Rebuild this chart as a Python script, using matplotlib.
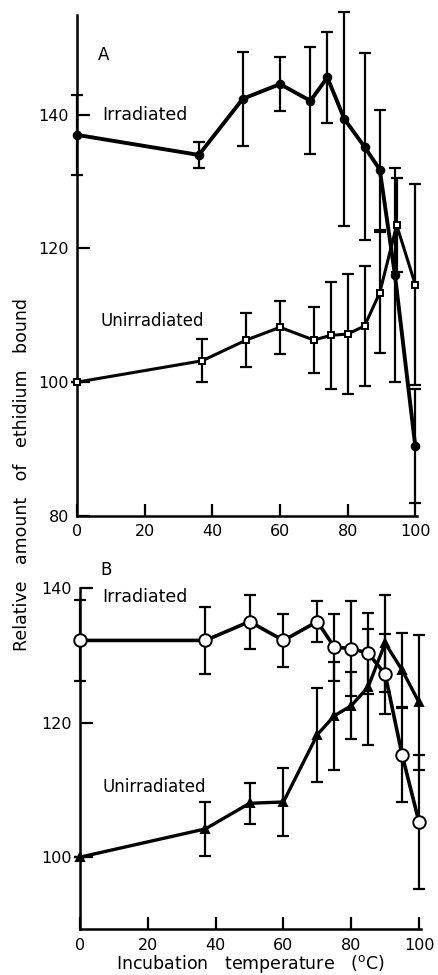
import numpy as np
from matplotlib import pyplot as plt

# panel A: irradiated (filled circles) and unirradiated (open squares)
temp_a_irr = [0, 36, 49, 60, 69, 74, 79, 85, 89.5, 94, 100]
val_a_irr = [137, 134, 142.4, 144.6, 142.1, 145.6, 139.4, 135.2, 131.8, 116, 90.4]
err_a_irr = [6, 2, 7, 4, 8, 6.8, 16, 14, 9, 16, 8.5]

temp_a_un = [0, 37, 50, 60, 70, 75, 80, 85, 89.5, 94.5, 100]
val_a_un = [100, 103.2, 106.3, 108.2, 106.3, 107, 107.2, 108.4, 113.4, 123.5, 114.6]
err_a_un = [0, 3.2, 4, 4, 5, 8, 9, 9, 9, 7, 15]

# panel B: irradiated (open circles) and unirradiated (filled triangles)
temp_b_irr = [0, 37, 50, 60, 70, 75, 80, 85, 90, 95, 100]
val_b_irr = [132.2, 132.2, 135, 132.2, 135, 131.2, 131, 130.3, 127.2, 115.2, 105.2]
err_b_irr = [6, 5, 4, 4, 3, 5, 7, 6, 6, 7, 10]

temp_b_un = [0, 37, 50, 60, 70, 75, 80, 85, 90, 95, 100]
val_b_un = [100, 104.2, 108, 108.2, 118.2, 121, 122.5, 125.3, 131.8, 127.8, 123]
err_b_un = [0, 4, 3, 5, 7, 8, 5, 8.6, 7.2, 5.5, 10]

x_ticks = [0, 20, 40, 60, 80, 100]
y_ticks_a = [80, 100, 120, 140]
y_ticks_b = [100, 120, 140]


def style_axes(ax):
    for s in ['top', 'right']:
        ax.spines[s].set_visible(False)
    for s in ['left', 'bottom']:
        ax.spines[s].set_linewidth(1.8)
    ax.tick_params(direction='in', length=9, width=1.6, labelsize=11.5, pad=6)
    ax.set_xlim(0, 100.5)
    ax.set_xticks(x_ticks)


def draw_series(ax, x, y, e, marker, ms, face, lw, zo):
    _, caps, bars = ax.errorbar(x, y, yerr=e, fmt='none', ecolor='black', elinewidth=1.6,
                                capsize=4, capthick=1.6, zorder=zo - 1)
    for a in list(caps) + list(bars):
        a.set_clip_on(False)
    ax.plot(x, y, color='black', lw=lw, marker=marker, ms=ms,
            markerfacecolor=face, markeredgecolor='black', markeredgewidth=1.4,
            zorder=zo, clip_on=False)


fig = plt.figure(figsize=(4.38, 9.75), dpi=100)

ax_a = fig.add_axes([0.176, 0.471, 0.776, 0.514])
style_axes(ax_a)
ax_a.set_ylim(80, 155)
ax_a.set_yticks(y_ticks_a)
draw_series(ax_a, temp_a_irr, val_a_irr, err_a_irr, 'o', 5.5, 'black', 2.8, 4)
draw_series(ax_a, temp_a_un, val_a_un, err_a_un, 's', 4.5, 'white', 2.2, 6)
ax_a.text(6, 149, 'A', fontsize=12, va='center')
ax_a.text(7.5, 140, 'Irradiated', fontsize=12.5, va='center')
ax_a.text(7, 109.2, 'Unirradiated', fontsize=12, va='center')

ax_b = fig.add_axes([0.1826, 0.047, 0.778, 0.350])
style_axes(ax_b)
ax_b.set_ylim(89.3, 140)
ax_b.set_yticks(y_ticks_b)
draw_series(ax_b, temp_b_un, val_b_un, err_b_un, '^', 5.5, 'black', 2.4, 4)
draw_series(ax_b, temp_b_irr, val_b_irr, err_b_irr, 'o', 9, 'white', 2.6, 6)
ax_b.text(5.9, 142.7, 'B', fontsize=12, va='center')
ax_b.text(6.7, 138.6, 'Irradiated', fontsize=12.5, va='center')
ax_b.text(6.5, 110.4, 'Unirradiated', fontsize=12, va='center')
ax_b.set_xlabel('Incubation   temperature   ($^{\\rm o}$C)', fontsize=12.5, labelpad=0)

fig.text(0.05, 0.513, 'Relative   amount   of   ethidium   bound', rotation=90,
         fontsize=12.5, ha='center', va='center')

fig.savefig('out.png', dpi=100)
